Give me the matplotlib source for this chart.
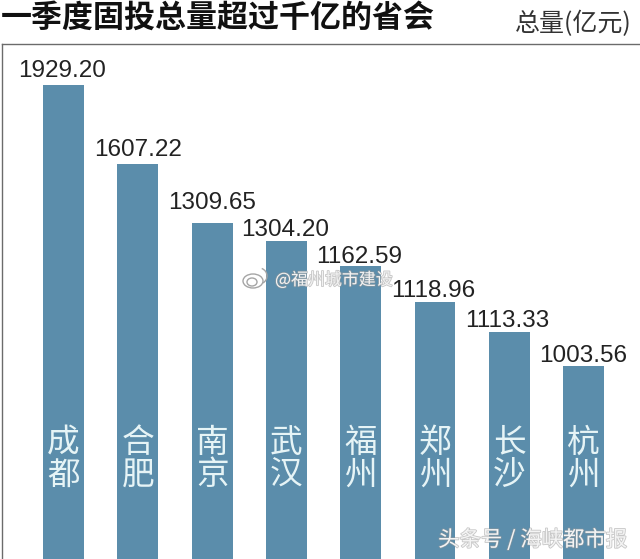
import matplotlib
matplotlib.use('Agg')
import matplotlib.pyplot as plt
import matplotlib.patheffects as pe
from matplotlib.patches import Ellipse, Arc

cities = ['成都', '合肥', '南京', '武汉', '福州', '郑州', '长沙', '杭州']
value_labels = ['1929.20', '1607.22', '1309.65', '1304.20', '1162.59', '1118.96', '1113.33', '1003.56']
# drawn heights as they appear in the picture, the bars are not to scale with the labels
bar_heights = [474, 395, 336, 318, 293, 257, 227, 193]

title = '一季度固投总量超过千亿的省会'
unit = '总量(亿元)'
mark_weibo = '@福州城市建设'
mark_toutiao = '头条号 / 海峡都市报'

cjk = ['Noto Sans CJK SC', 'DejaVu Sans']
W, H = 640, 559
bar_color = '#5b8dab'

fig = plt.figure(figsize=(W / 100, H / 100), dpi=100, facecolor='white')
ax = fig.add_axes([2 / W, 0, 1 - 2 / W, 515 / H])
ax.set_xlim(-0.828, 7.759)
ax.set_ylim(0, 515)
ax.set_xticks([])
ax.set_yticks([])
for s in ['right', 'bottom']:
    ax.spines[s].set_visible(False)
for s in ['top', 'left']:
    ax.spines[s].set_color('#6b6b6b')
    ax.spines[s].set_linewidth(1.0)

xs = list(range(len(cities)))
bars = ax.bar(xs, bar_heights, width=0.55, color=bar_color, linewidth=0)

# label shift from the bar top centre, px
label_dx = [-1, 0, 0, -1, -2, -2, -2, 0]
label_dy = [8, 8, 14, 5, 3, 5, 5, 4]
for x, h, lab, dx, dy in zip(xs, bar_heights, value_labels, label_dx, label_dy):
    ax.annotate(lab, (x, h), xytext=(dx * 0.72, dy * 0.72), textcoords='offset points',
                ha='center', va='baseline', fontsize=17.5, color='#222222',
                family='Liberation Sans')

for x, name in zip(xs, cities):
    ax.text(x, 100, name[0] + '\n' + name[1], ha='center', va='center', fontsize=23.5,
            color='#e6f4f6', family=cjk, linespacing=1.03)

fig.text(1 / W, 1 - 18 / H, title, ha='left', va='center', fontsize=22.3,
         fontweight='bold', color='#111111', family=cjk)
fig.text(632 / W, 1 - 24 / H, unit, ha='right', va='center', fontsize=18,
         color='#333333', family=cjk)

# watermarks
soft = [pe.withStroke(linewidth=1.2, foreground='#9a9a9a', alpha=0.55)]
fig.text(275 / W, 1 - 280 / H, mark_weibo, ha='left', va='center', fontsize=12.2,
         color='#f2f2f2', family=cjk, path_effects=soft)
fig.text(627 / W, 1 - 540 / H, mark_toutiao, ha='right', va='center', fontsize=15.4,
         color='#f4f4f4', family=cjk, path_effects=soft)
icon = fig.add_axes([0, 0, 1, 1], facecolor='none')
icon.set_xlim(0, W)
icon.set_ylim(H, 0)
icon.axis('off')
icon.add_patch(Ellipse((253, 281), 20, 14, fill=False, ec='#a5a5a5', lw=1))
icon.add_patch(Ellipse((252, 282), 10, 8, fill=False, ec='#a5a5a5', lw=1))
icon.add_patch(Arc((259, 276), 16, 16, theta1=-70, theta2=60, ec='#a5a5a5', lw=1))

fig.savefig('out.png', dpi=100)
